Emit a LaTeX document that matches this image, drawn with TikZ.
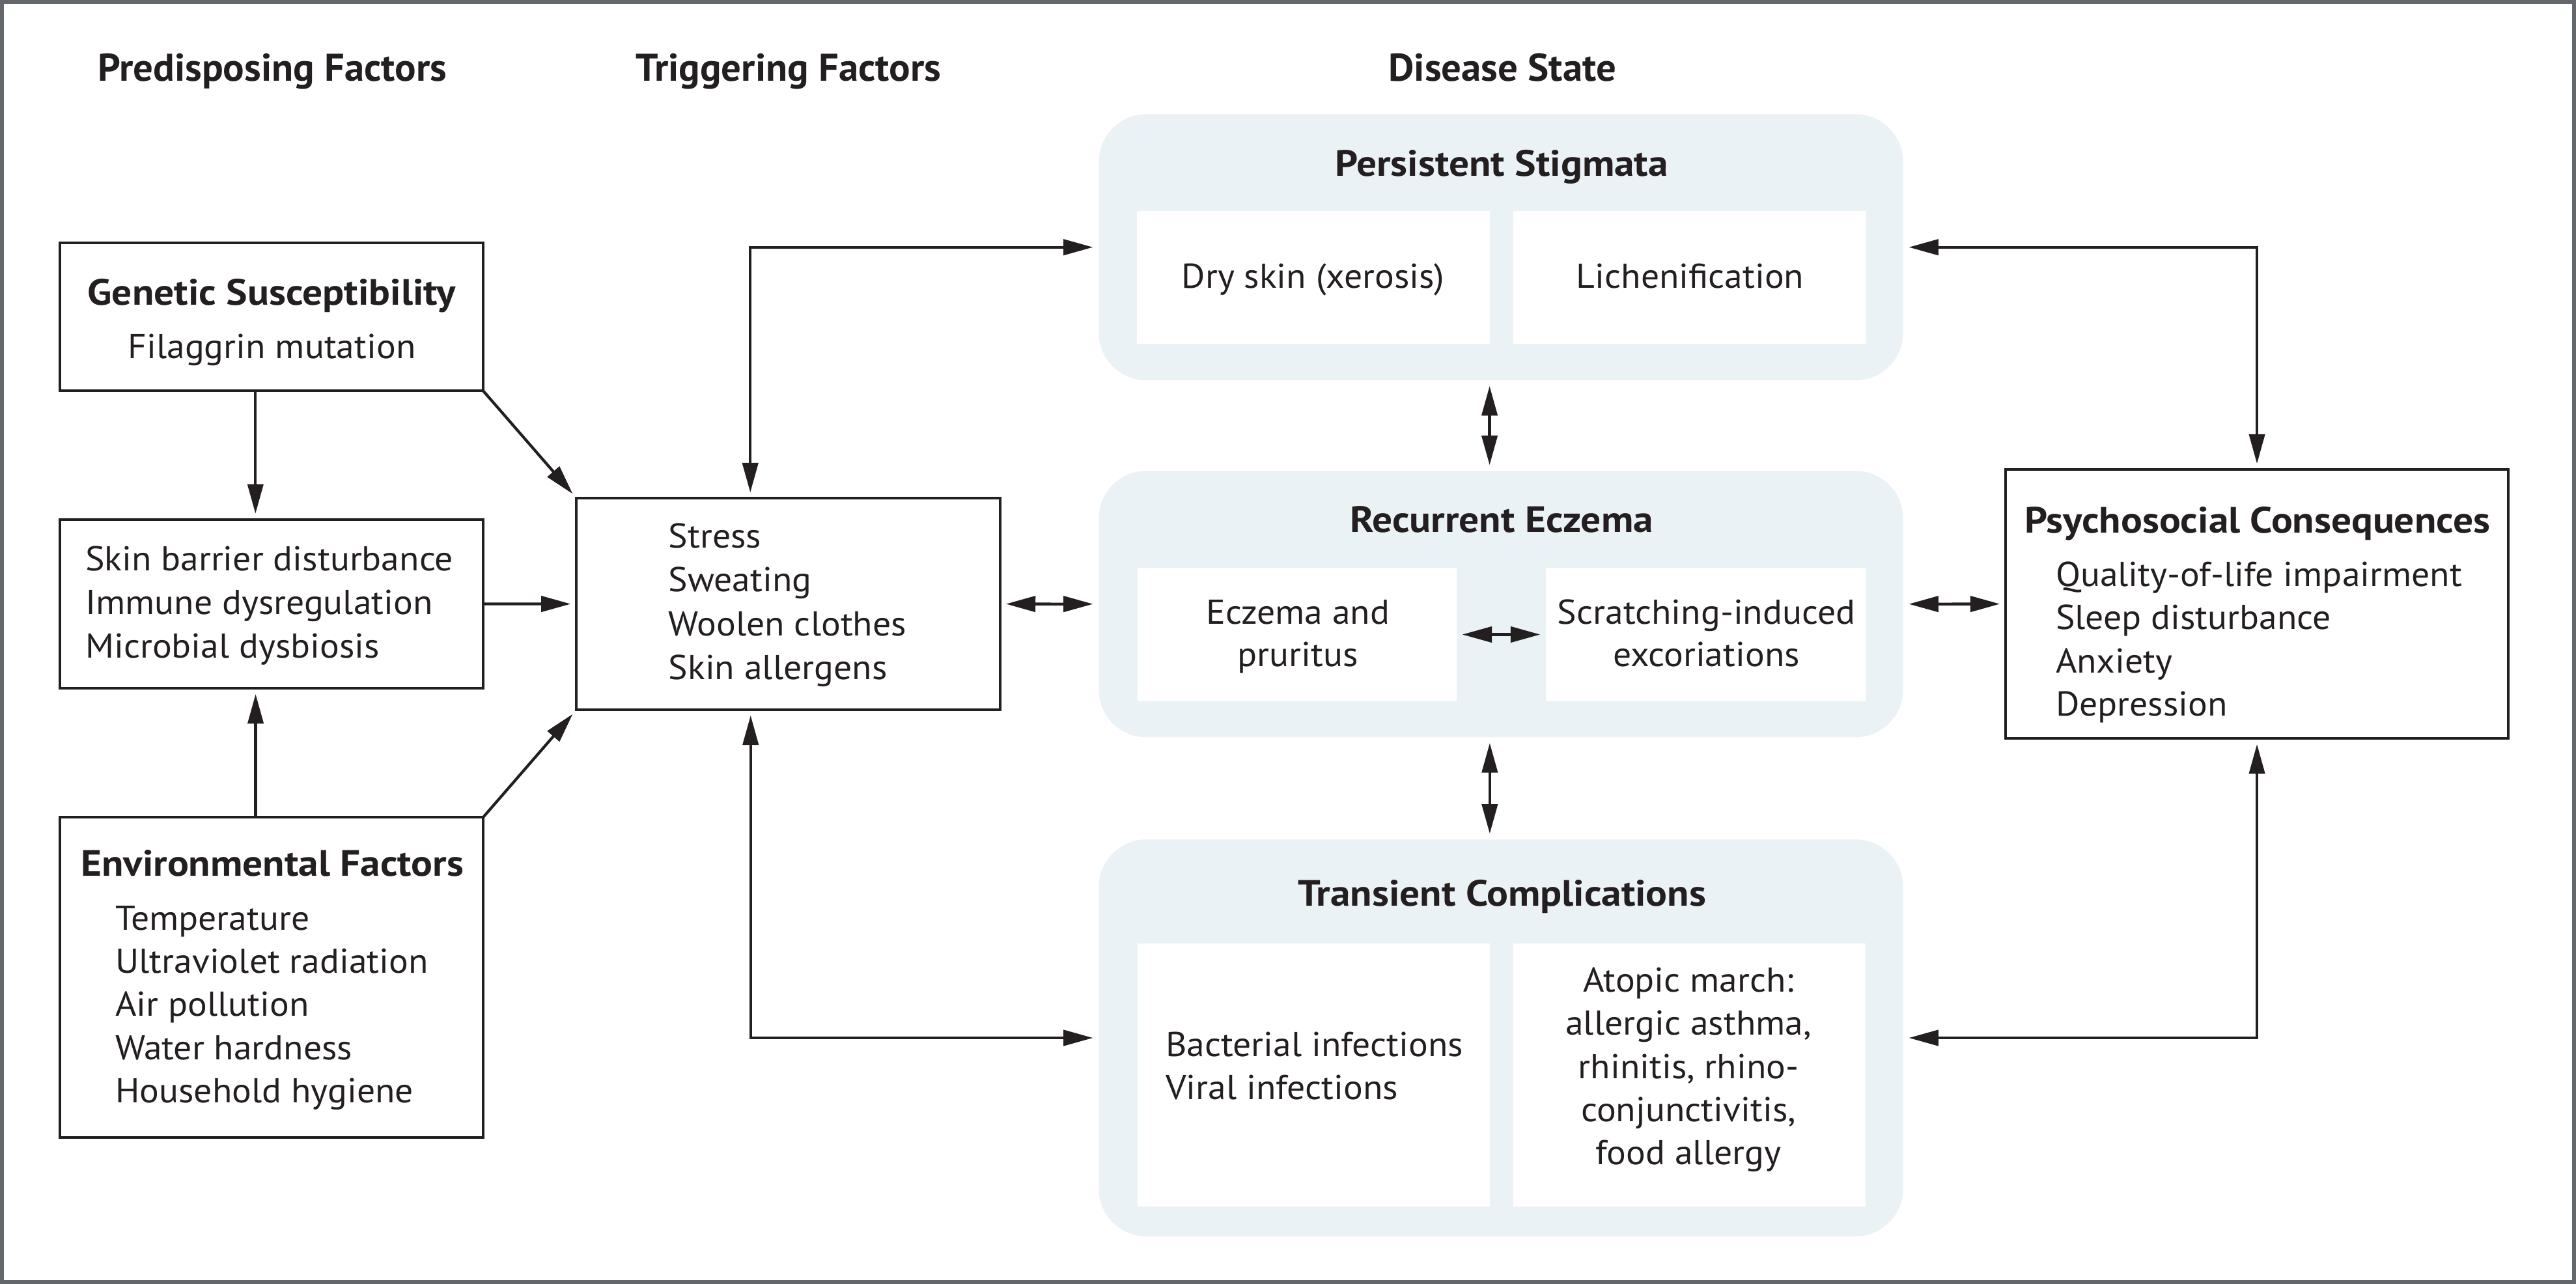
\documentclass[tikz,border=0pt]{standalone}
\usepackage{fontspec}
\setmainfont{PT Sans}[FakeStretch=1.05]
\newfontfamily\ttlfont{PT Sans}[FakeStretch=1.09]
\newfontfamily\hdrfont{PT Sans}[FakeStretch=1.025]
\usetikzlibrary{arrows.meta,calc}
\definecolor{ink}{HTML}{231F20}
\definecolor{panelc}{HTML}{EAF2F6}
\definecolor{framec}{HTML}{63666B}
\begin{document}
\begin{tikzpicture}[x=1pt,y=-1pt,
  every node/.style={inner sep=0pt, outer sep=0pt, text=ink},
  box/.style={draw=ink, line width=1.6pt, fill=white, rectangle},
  panel/.style={fill=panelc, rounded corners=29pt, rectangle},
  innerbox/.style={fill=white, rectangle},
  body/.style={font=\fontsize{21}{26.4}\selectfont},
  ttl/.style={font=\ttlfont\fontsize{22.3}{26.4}\selectfont\bfseries},
  hdr/.style={font=\hdrfont\fontsize{23.5}{28}\selectfont\bfseries},
  arr/.style={draw=ink, line width=1.7pt, -{Triangle[length=18pt,width=9.5pt]}, shorten >=3.5pt},
  dbl/.style={draw=ink, line width=1.7pt, {Triangle[length=18pt,width=9.5pt]}-{Triangle[length=18pt,width=9.5pt]}, shorten >=3.5pt, shorten <=3.5pt},
]
\useasboundingbox (0,0) rectangle (1568,781.6);
\fill[white] (0,0) rectangle (1568,781.6);

% headers
\node[hdr, anchor=base] (h1) at (165.8,49.5) {Predisposing Factors};
\node[hdr, anchor=base] (h2) at (480,49.5) {Triggering Factors};
\node[hdr, anchor=base] (h3) at (914.5,49.5) {Disease State};

% panels
\node[panel, minimum width=489.6pt, minimum height=162pt] (pers) at (913.6,150.5) {};
\node[panel, minimum width=489.6pt, minimum height=162.2pt] (rec) at (913.6,367.7) {};
\node[panel, minimum width=489.6pt, minimum height=241.6pt] (trans) at (913.6,631.8) {};

\node[innerbox, minimum width=214.9pt, minimum height=80.9pt] (d1) at (799.45,168.85) {};
\node[innerbox, minimum width=214.9pt, minimum height=80.9pt] (d2) at (1028.55,168.85) {};
\node[innerbox, minimum width=194.2pt, minimum height=80.9pt] (e1) at (789.5,386.25) {};
\node[innerbox, minimum width=195pt, minimum height=80.9pt] (e2) at (1038.5,386.25) {};
\node[innerbox, minimum width=214.2pt, minimum height=160.2pt] (t1) at (799.6,654.3) {};
\node[innerbox, minimum width=214.6pt, minimum height=160.2pt] (t2) at (1028.3,654.3) {};

% boxes
\node[box, minimum width=257.8pt, minimum height=89.9pt] (gen) at (165.2,192.95) {};
\node[box, minimum width=257.8pt, minimum height=102.8pt] (skin) at (165.2,367.6) {};
\node[box, minimum width=257.8pt, minimum height=195pt] (env) at (165.2,595) {};
\node[box, minimum width=257.9pt, minimum height=128.7pt] (trig) at (479.85,367.65) {};
\node[box, minimum width=306pt, minimum height=163.7pt] (psych) at (1373.8,367.65) {};

% texts: predisposing
\node[ttl, anchor=base] (gent) at (165.4,185.5) {Genetic Susceptibility};
\node[body, anchor=base] (gen1) at (165.5,218) {Filaggrin mutation};
\node[body, anchor=base west] (skin1) at (52,347.6) {Skin barrier disturbance};
\node[body, anchor=base west] (skin2) at (52,373.9) {Immune dysregulation};
\node[body, anchor=base west] (skin3) at (52,400.7) {Microbial dysbiosis};
\node[ttl, anchor=base] (envt) at (165.8,533.3) {Environmental Factors};
\node[body, anchor=base west] (env1) at (70.3,566) {Temperature};
\node[body, anchor=base west] (env2) at (70.3,592.3) {Ultraviolet radiation};
\node[body, anchor=base west] (env3) at (70.3,618.7) {Air pollution};
\node[body, anchor=base west] (env4) at (70.3,645) {Water hardness};
\node[body, anchor=base west] (env5) at (70.3,671.3) {Household hygiene};

% triggering
\node[body, anchor=base west] (tr1) at (407,333.6) {Stress};
\node[body, anchor=base west] (tr2) at (407,360.2) {Sweating};
\node[body, anchor=base west] (tr3) at (407,386.9) {Woolen clothes};
\node[body, anchor=base west] (tr4) at (407,413.5) {Skin allergens};

% disease state
\node[ttl, anchor=base] (perst) at (914,107.2) {Persistent Stigmata};
\node[body, anchor=base] (d1t) at (799.3,175.3) {Dry skin (xerosis)};
\node[body, anchor=base] (d2t) at (1028.8,175.3) {Lichenification};
\node[ttl, anchor=base] (rect) at (914,323.9) {Recurrent Eczema};
\node[body, anchor=base] (e1a) at (790,379.8) {Eczema and};
\node[body, anchor=base] (e1b) at (790,405.8) {pruritus};
\node[body, anchor=base] (e2a) at (1038.7,379.8) {Scratching-induced};
\node[body, anchor=base] (e2b) at (1038.7,405.8) {excoriations};
\node[ttl, anchor=base] (transt) at (914.3,551.5) {Transient Complications};
\node[body, anchor=base west] (t1a) at (709.6,643) {Bacterial infections};
\node[body, anchor=base west] (t1b) at (709.6,669.2) {Viral infections};
\node[body, anchor=base] (t2a) at (1027.8,604) {Atopic march:};
\node[body, anchor=base] (t2b) at (1027.8,630.2) {allergic asthma,};
\node[body, anchor=base] (t2c) at (1027.8,656.4) {rhinitis, rhino-};
\node[body, anchor=base] (t2d) at (1027.8,682.6) {conjunctivitis,};
\node[body, anchor=base] (t2e) at (1027.8,708.8) {food allergy};

% psychosocial
\node[ttl, anchor=base] (psycht) at (1374,324.3) {Psychosocial Consequences};
\node[body, anchor=base west] (ps1) at (1251.3,356.9) {Quality-of-life impairment};
\node[body, anchor=base west] (ps2) at (1251.3,383.2) {Sleep disturbance};
\node[body, anchor=base west] (ps3) at (1251.3,409.5) {Anxiety};
\node[body, anchor=base west] (ps4) at (1251.3,435.8) {Depression};

% connectors
\draw[arr] ([xshift=-9.7pt]gen.south) -- ([xshift=-9.7pt]skin.north);
\draw[arr] ([xshift=-9.6pt]env.north) -- ([xshift=-9.6pt]skin.south);
\draw[arr] (gen.south east) -- (trig.north west);
\draw[arr] (skin.east) -- (trig.west);
\draw[arr] (env.north east) -- (trig.south west);
\draw[dbl] ([xshift=105.8pt]trig.north west) |- (pers.west);
\draw[dbl] (trig.east) -- (rec.west);
\draw[dbl] ([xshift=106pt]trig.south west) |- (trans.west);
\draw[dbl] ([xshift=-6.9pt]pers.south) -- ([xshift=-6.9pt]rec.north);
\draw[dbl] ([xshift=-6.8pt]rec.south) -- ([xshift=-6.8pt]trans.north);
\draw[dbl] (e1.east) -- (e2.west);
\draw[dbl] (pers.east) -| (psych.north);
\draw[dbl] (rec.east) -- (psych.west);
\draw[dbl] (trans.east) -| (psych.south);

% frame
\draw[framec, line width=2.4pt] (1.2,1.2) rectangle (1566.8,780.4);
\end{tikzpicture}
\end{document}
